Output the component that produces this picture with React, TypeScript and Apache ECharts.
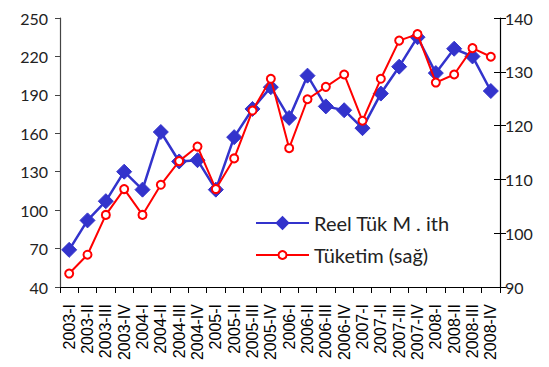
import React, { useEffect, useRef } from "react";
import * as echarts from "echarts";

const quarters = [
  "2003-I", "2003-II", "2003-III", "2003-IV",
  "2004-I", "2004-II", "2004-III", "2004-IV",
  "2005-I", "2005-II", "2005-III", "2005-IV",
  "2006-I", "2006-II", "2006-III", "2006-IV",
  "2007-I", "2007-II", "2007-III", "2007-IV",
  "2008-I", "2008-II", "2008-III", "2008-IV",
];

// Reel tüketim malı ithalatı (left axis)
const reelTukIthalat = [
  69, 92, 107, 130, 116, 161, 138, 139,
  116, 157, 179, 196, 172, 205, 181, 178,
  164, 191, 212, 235, 207, 226, 220, 193,
];

// Tüketim (right axis)
const tuketim = [
  92.5, 96, 103.4, 108.2, 103.4, 109, 113.4, 116.1,
  108.2, 113.9, 122.8, 128.7, 115.8, 124.9, 127.2, 129.5,
  120.9, 128.7, 135.8, 137, 128, 129.5, 134.4, 132.8,
];

const seriesNames = ["Reel Tük M . ith", "Tüketim (sağ)"];

const BLUE = "#3333CC";
const RED = "#FF0000";
const FONT = "Lato";

const legendText = { fontFamily: FONT, fontSize: 20, color: "#222" };

export default function App() {
  const ref = useRef<HTMLDivElement>(null);

  useEffect(() => {
    if (!ref.current) return;
    const chart = echarts.init(ref.current, undefined, { renderer: "svg" });
    chart.setOption({
      animation: false,
      backgroundColor: "#ffffff",
      grid: { left: 60, right: 49, top: 18, bottom: 80, containLabel: false },
      // one legend per entry so each icon gets its own marker size
      legend: [
        {
          orient: "vertical",
          left: 255,
          top: 213,
          padding: 0,
          itemWidth: 53,
          itemHeight: 18,
          textStyle: legendText,
          data: [seriesNames[0]],
        },
        {
          orient: "vertical",
          left: 255,
          top: 245,
          padding: 0,
          itemWidth: 53,
          itemHeight: 10,
          textStyle: legendText,
          data: [seriesNames[1]],
        },
      ],
      xAxis: {
        type: "category",
        data: quarters,
        boundaryGap: true,
        axisLine: { lineStyle: { color: "#000", width: 1.2 } },
        axisTick: { show: true, length: 6, alignWithLabel: false, lineStyle: { color: "#000" } },
        axisLabel: {
          interval: 0,
          rotate: 90,
          margin: 17,
          fontFamily: "Liberation Sans",
          fontSize: 16,
          color: "#000",
        },
        splitLine: { show: false },
      },
      yAxis: [
        {
          type: "value",
          min: 40,
          max: 250,
          interval: 30,
          position: "left",
          axisLine: { show: true, lineStyle: { color: "#444", width: 1.2 } },
          axisTick: { show: true, length: 5, lineStyle: { color: "#444" } },
          axisLabel: { margin: 12, fontFamily: FONT, fontSize: 16, color: "#222" },
          splitLine: { show: false },
        },
        {
          type: "value",
          min: 90,
          max: 140,
          interval: 10,
          position: "right",
          axisLine: { show: true, lineStyle: { color: "#000", width: 1.2 } },
          axisTick: { show: true, length: 6, lineStyle: { color: "#000" } },
          axisLabel: { margin: 5, fontFamily: FONT, fontSize: 16, color: "#222" },
          splitLine: { show: false },
        },
        {
          type: "value",
          min: 90,
          max: 140,
          interval: 10,
          position: "right",
          axisLine: { show: false },
          axisTick: { show: true, inside: true, length: 6, lineStyle: { color: "#000" } },
          axisLabel: { show: false },
          splitLine: { show: false },
        },
      ],
      series: [
        {
          name: seriesNames[0],
          type: "line",
          yAxisIndex: 0,
          data: reelTukIthalat,
          symbol: "diamond",
          symbolSize: 15,
          lineStyle: { color: BLUE, width: 2.5 },
          itemStyle: { color: BLUE, borderColor: BLUE },
          z: 2,
        },
        {
          name: seriesNames[1],
          type: "line",
          yAxisIndex: 1,
          data: tuketim,
          symbol: "circle",
          symbolSize: 8,
          showAllSymbol: true,
          lineStyle: { color: RED, width: 2 },
          itemStyle: { color: "#ffffff", borderColor: RED, borderWidth: 2 },
          z: 3,
        },
      ],
    });
    return () => chart.dispose();
  }, []);

  return (
    <div
      ref={ref}
      style={{ position: "fixed", left: 0, top: 0, width: 549, height: 367 }}
    />
  );
}
